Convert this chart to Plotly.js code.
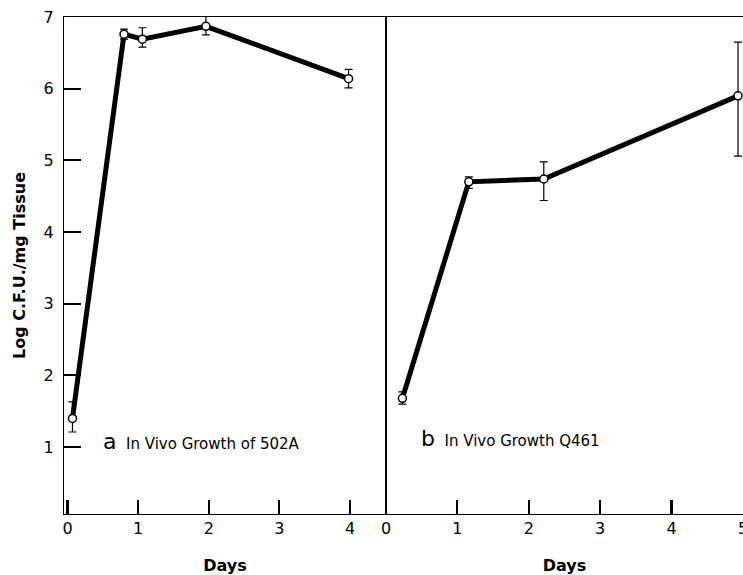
<!DOCTYPE html>
<html>
<head>
<meta charset="utf-8">
<script src="https://cdn.plot.ly/plotly-3.0.1.min.js"></script>
<style>html,body{margin:0;padding:0;background:#fff;}#chart{width:743px;height:575px;}</style>
</head>
<body>
<div id="chart"></div>
<script>
// Panel a: In Vivo Growth of 502A
const daysA = [0.07, 0.80, 1.06, 1.96, 3.98];
const logA = [1.40, 6.76, 6.69, 6.87, 6.14];
const errUpA = [0.23, 0.07, 0.16, 0.14, 0.13];
const errDownA = [0.19, 0.07, 0.11, 0.12, 0.13];

// Panel b: In Vivo Growth Q461
const daysB = [0.23, 1.16, 2.21, 4.93];
const logB = [1.68, 4.70, 4.74, 5.90];
const errUpB = [0.09, 0.07, 0.24, 0.75];
const errDownB = [0.08, 0.09, 0.30, 0.84];

const xTicksA = [0, 1, 2, 3, 4];
const xTicksB = [0, 1, 2, 3, 4, 5];
const yTicks = [1, 2, 3, 4, 5, 6, 7];

const yTitle = "Log C.F.U./mg Tissue";
const xTitle = "Days";

const FONT = "DejaVu Sans, sans-serif";

function trace(x, y, up, down, xa, ya) {
  return {
    x: x, y: y, xaxis: xa, yaxis: ya,
    type: 'scatter', mode: 'lines+markers',
    line: {color: '#000', width: 5},
    marker: {symbol: 'circle', size: 8, color: '#fff', line: {color: '#000', width: 1.5}},
    error_y: {type: 'data', symmetric: false, array: up, arrayminus: down,
              color: '#000', thickness: 1.2, width: 4},
    cliponaxis: false,
    showlegend: false, hoverinfo: 'skip'
  };
}

const data = [
  trace(daysA, logA, errUpA, errDownA, 'x', 'y'),
  trace(daysB, logB, errUpB, errDownB, 'x2', 'y2')
];

const split = 0.4742;
const axisCommon = {
  showline: true, linecolor: '#000', linewidth: 1.2,
  showgrid: false, zeroline: false,
  tickfont: {family: FONT, size: 16, color: '#000'},
  tickcolor: '#000', tickwidth: 2,
  ticklabeloverflow: 'allow'
};
const titleFont = {family: FONT, size: 16, color: '#000'};

const layout = {
  width: 743, height: 575,
  margin: {l: 64, r: 0, t: 17, b: 61},
  paper_bgcolor: '#fff', plot_bgcolor: 'rgba(0,0,0,0)',
  showlegend: false,
  xaxis: Object.assign({}, axisCommon, {
    domain: [0, split], range: [-0.05, 4.51],
    tickmode: 'array', tickvals: xTicksA, ticktext: xTicksA.map(String),
    ticks: 'inside', ticklen: 14, tickcolor: '#000', tickwidth: 2.2,
    mirror: true, anchor: 'y',
    title: {text: '<b>' + xTitle + '</b>', font: titleFont, standoff: 24}
  }),
  yaxis: Object.assign({}, axisCommon, {
    domain: [0, 1], range: [0.066, 7],
    tickmode: 'array', tickvals: yTicks, ticktext: yTicks.map(String),
    ticks: 'inside', ticklen: 17, mirror: true, anchor: 'x', ticklabelstandoff: 6,
    title: {text: '<b>' + yTitle + '</b>', font: titleFont, standoff: 13}
  }),
  xaxis2: Object.assign({}, axisCommon, {
    domain: [split, 1], range: [0, 5.0],
    tickmode: 'array', tickvals: xTicksB, ticktext: xTicksB.map(String),
    ticks: 'inside', ticklen: 14, tickcolor: '#000', tickwidth: 2.2,
    mirror: true, anchor: 'y2',
    title: {text: '<b>' + xTitle + '</b>', font: titleFont, standoff: 24}
  }),
  yaxis2: Object.assign({}, axisCommon, {
    domain: [0, 1], range: [0.066, 7],
    tickvals: yTicks, showticklabels: false, ticks: '',
    mirror: true, anchor: 'x2'
  }),
  annotations: [
    {xref: 'x', yref: 'y', x: 0.48, y: 1.08, xanchor: 'left', yanchor: 'middle', showarrow: false,
     text: '<span style="font-size:22px">a</span>  In Vivo Growth of 502A',
     font: {family: FONT, size: 15, color: '#000'}},
    {xref: 'x2', yref: 'y2', x: 0.46, y: 1.12, xanchor: 'left', yanchor: 'middle', showarrow: false,
     text: '<span style="font-size:22px">b</span>  In Vivo Growth Q461',
     font: {family: FONT, size: 15, color: '#000'}}
  ]
};

Plotly.newPlot('chart', data, layout, {displayModeBar: false, staticPlot: true});
</script>
</body>
</html>
